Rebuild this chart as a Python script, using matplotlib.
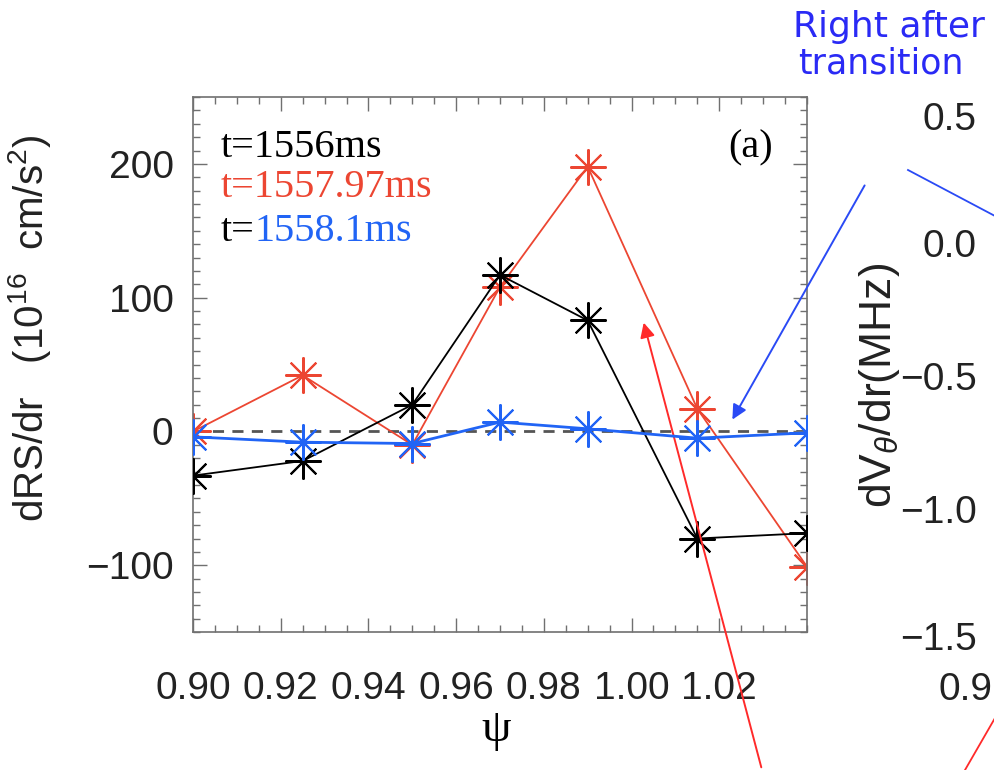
import numpy as np
import matplotlib
matplotlib.use('Agg')
from matplotlib import pyplot as plt
from matplotlib.ticker import MultipleLocator, FixedLocator

psi = [0.90, 0.925, 0.95, 0.97, 0.99, 1.015, 1.04]
rs_1556 = [-33, -22, 20, 117, 83, -80, -76]
rs_155797 = [0, 42, -10, 108, 198, 17, -101]
rs_15581 = [-4, -8, -9, 7, 2, -5, -1]

labels = ['t=1556ms', 't=1557.97ms', 't=1558.1ms']
xticks = [0.90, 0.92, 0.94, 0.96, 0.98, 1.00, 1.02]
yticks = [-100, 0, 100, 200]
right_ticks = ['0.5', '0.0', '\u22120.5', '\u22121.0', '\u22121.5']

red = '#ec4632'
blue = '#2164f5'
grey = '#707070'
txt = '#222222'

plt.rcParams['font.family'] = ['Liberation Sans', 'DejaVu Sans']
plt.rcParams['mathtext.fontset'] = 'custom'
plt.rcParams['mathtext.rm'] = 'Liberation Sans'
plt.rcParams['mathtext.it'] = 'Liberation Sans:italic'

fig = plt.figure(figsize=(9.95, 7.7), dpi=100)
ax = fig.add_axes([0.194, 0.179, 0.617, 0.695])

star = (8, 2, 0)
ax.axhline(0, color='#555555', ls=(0, (4, 3)), lw=2, zorder=1)
ax.plot(psi, rs_1556, color='black', lw=1.3, marker=star, ms=26, mew=1.5, zorder=3)
ax.plot(psi, rs_155797, color=red, lw=1.3, marker=star, ms=26, mew=1.5, zorder=2)
ax.plot(psi, rs_15581, color=blue, lw=2.0, marker=star, ms=26, mew=1.5, zorder=4)

ax.set_xlim(0.90, 1.04)
ax.set_ylim(-150, 250)
ax.xaxis.set_major_locator(FixedLocator(xticks))
ax.xaxis.set_minor_locator(MultipleLocator(0.005))
ax.yaxis.set_major_locator(FixedLocator(yticks))
ax.yaxis.set_minor_locator(MultipleLocator(10))
ax.set_xticklabels(['%.2f' % v for v in xticks])
ax.set_yticklabels(['\u2212100' if v < 0 else str(v) for v in yticks])
ax.tick_params(which='both', direction='in', top=True, right=True, color=grey, width=1,
               labelcolor=txt)
ax.tick_params(which='major', length=10, labelsize=28)
ax.tick_params(which='minor', length=5)
ax.tick_params(axis='x', which='major', pad=28)
ax.tick_params(axis='y', which='major', pad=14)
for s in ax.spines.values():
    s.set_color(grey)
    s.set_linewidth(1.2)

fig.text(0.030, 1 - 328 / 770, 'dRS/dr   (10$^{16}$  cm/s$^2$)', rotation=90,
         ha='center', va='center', fontsize=29, color=txt)
fig.text(0.499, 1 - 730 / 770, '\u03c8', ha='center', va='center', fontsize=34,
         family='Liberation Serif')

# legend-like labels
serif = 'Liberation Serif'
fs = 29
ax.text(0.045, 0.905, labels[0], transform=ax.transAxes, fontsize=fs, family=serif,
        color='black', va='center')
ax.text(0.045, 0.83, labels[1], transform=ax.transAxes, fontsize=fs, family=serif,
        color=red, va='center')
t0 = ax.text(0.045, 0.748, 't=', transform=ax.transAxes, fontsize=fs, family=serif,
             color='black', va='center')
ax.annotate(labels[2][2:], xy=(1, 0), xycoords=t0, va='bottom', fontsize=fs,
            family=serif, color=blue)
ax.text(0.945, 0.905, '(a)', transform=ax.transAxes, fontsize=fs, family=serif,
        ha='right', va='center')

# pieces of the neighbouring panel
fig.text(793 / 995, 1 - 27 / 770, 'Right after', color='#2a2af5', fontsize=26,
         va='center', ha='left', family='DejaVu Sans')
fig.text(798 / 995, 1 - 64 / 770, 'transition', color='#2a2af5', fontsize=25,
         va='center', ha='left', family='DejaVu Sans')
for lab, yp in zip(right_ticks, [120, 247, 380, 513, 640]):
    fig.text(977 / 995, 1 - yp / 770, lab, ha='right', va='center', fontsize=28, color=txt)
fig.text(993 / 995, 1 - 690 / 770, '0.9', ha='right', va='center', fontsize=28, color=txt)
fig.text(880 / 995, 1 - 385 / 770, r'dV$_{\theta}$/dr(MHz)', rotation=90,
         ha='center', va='center', fontsize=32, color=txt)

fig.add_artist(plt.Line2D([908 / 995, 1.0], [1 - 170 / 770, 1 - 216 / 770],
                          color='#2a4af5', lw=1.3))
fig.add_artist(plt.Line2D([965 / 995, 1.0], [1 - 770 / 770, 1 - 718 / 770],
                          color='#ff2a2a', lw=1.3))

ax.annotate('', xy=(643, 770 - 320), xytext=(762, 0), xycoords='figure pixels',
            textcoords='figure pixels', annotation_clip=False,
            arrowprops=dict(arrowstyle='-|>', color='#ff2a2a', lw=1.4, mutation_scale=22))
ax.annotate('', xy=(731, 770 - 422), xytext=(866, 770 - 183), xycoords='figure pixels',
            textcoords='figure pixels', annotation_clip=False,
            arrowprops=dict(arrowstyle='-|>', color='#2a4af5', lw=1.4, mutation_scale=22))

fig.savefig('out.png', dpi=100)
